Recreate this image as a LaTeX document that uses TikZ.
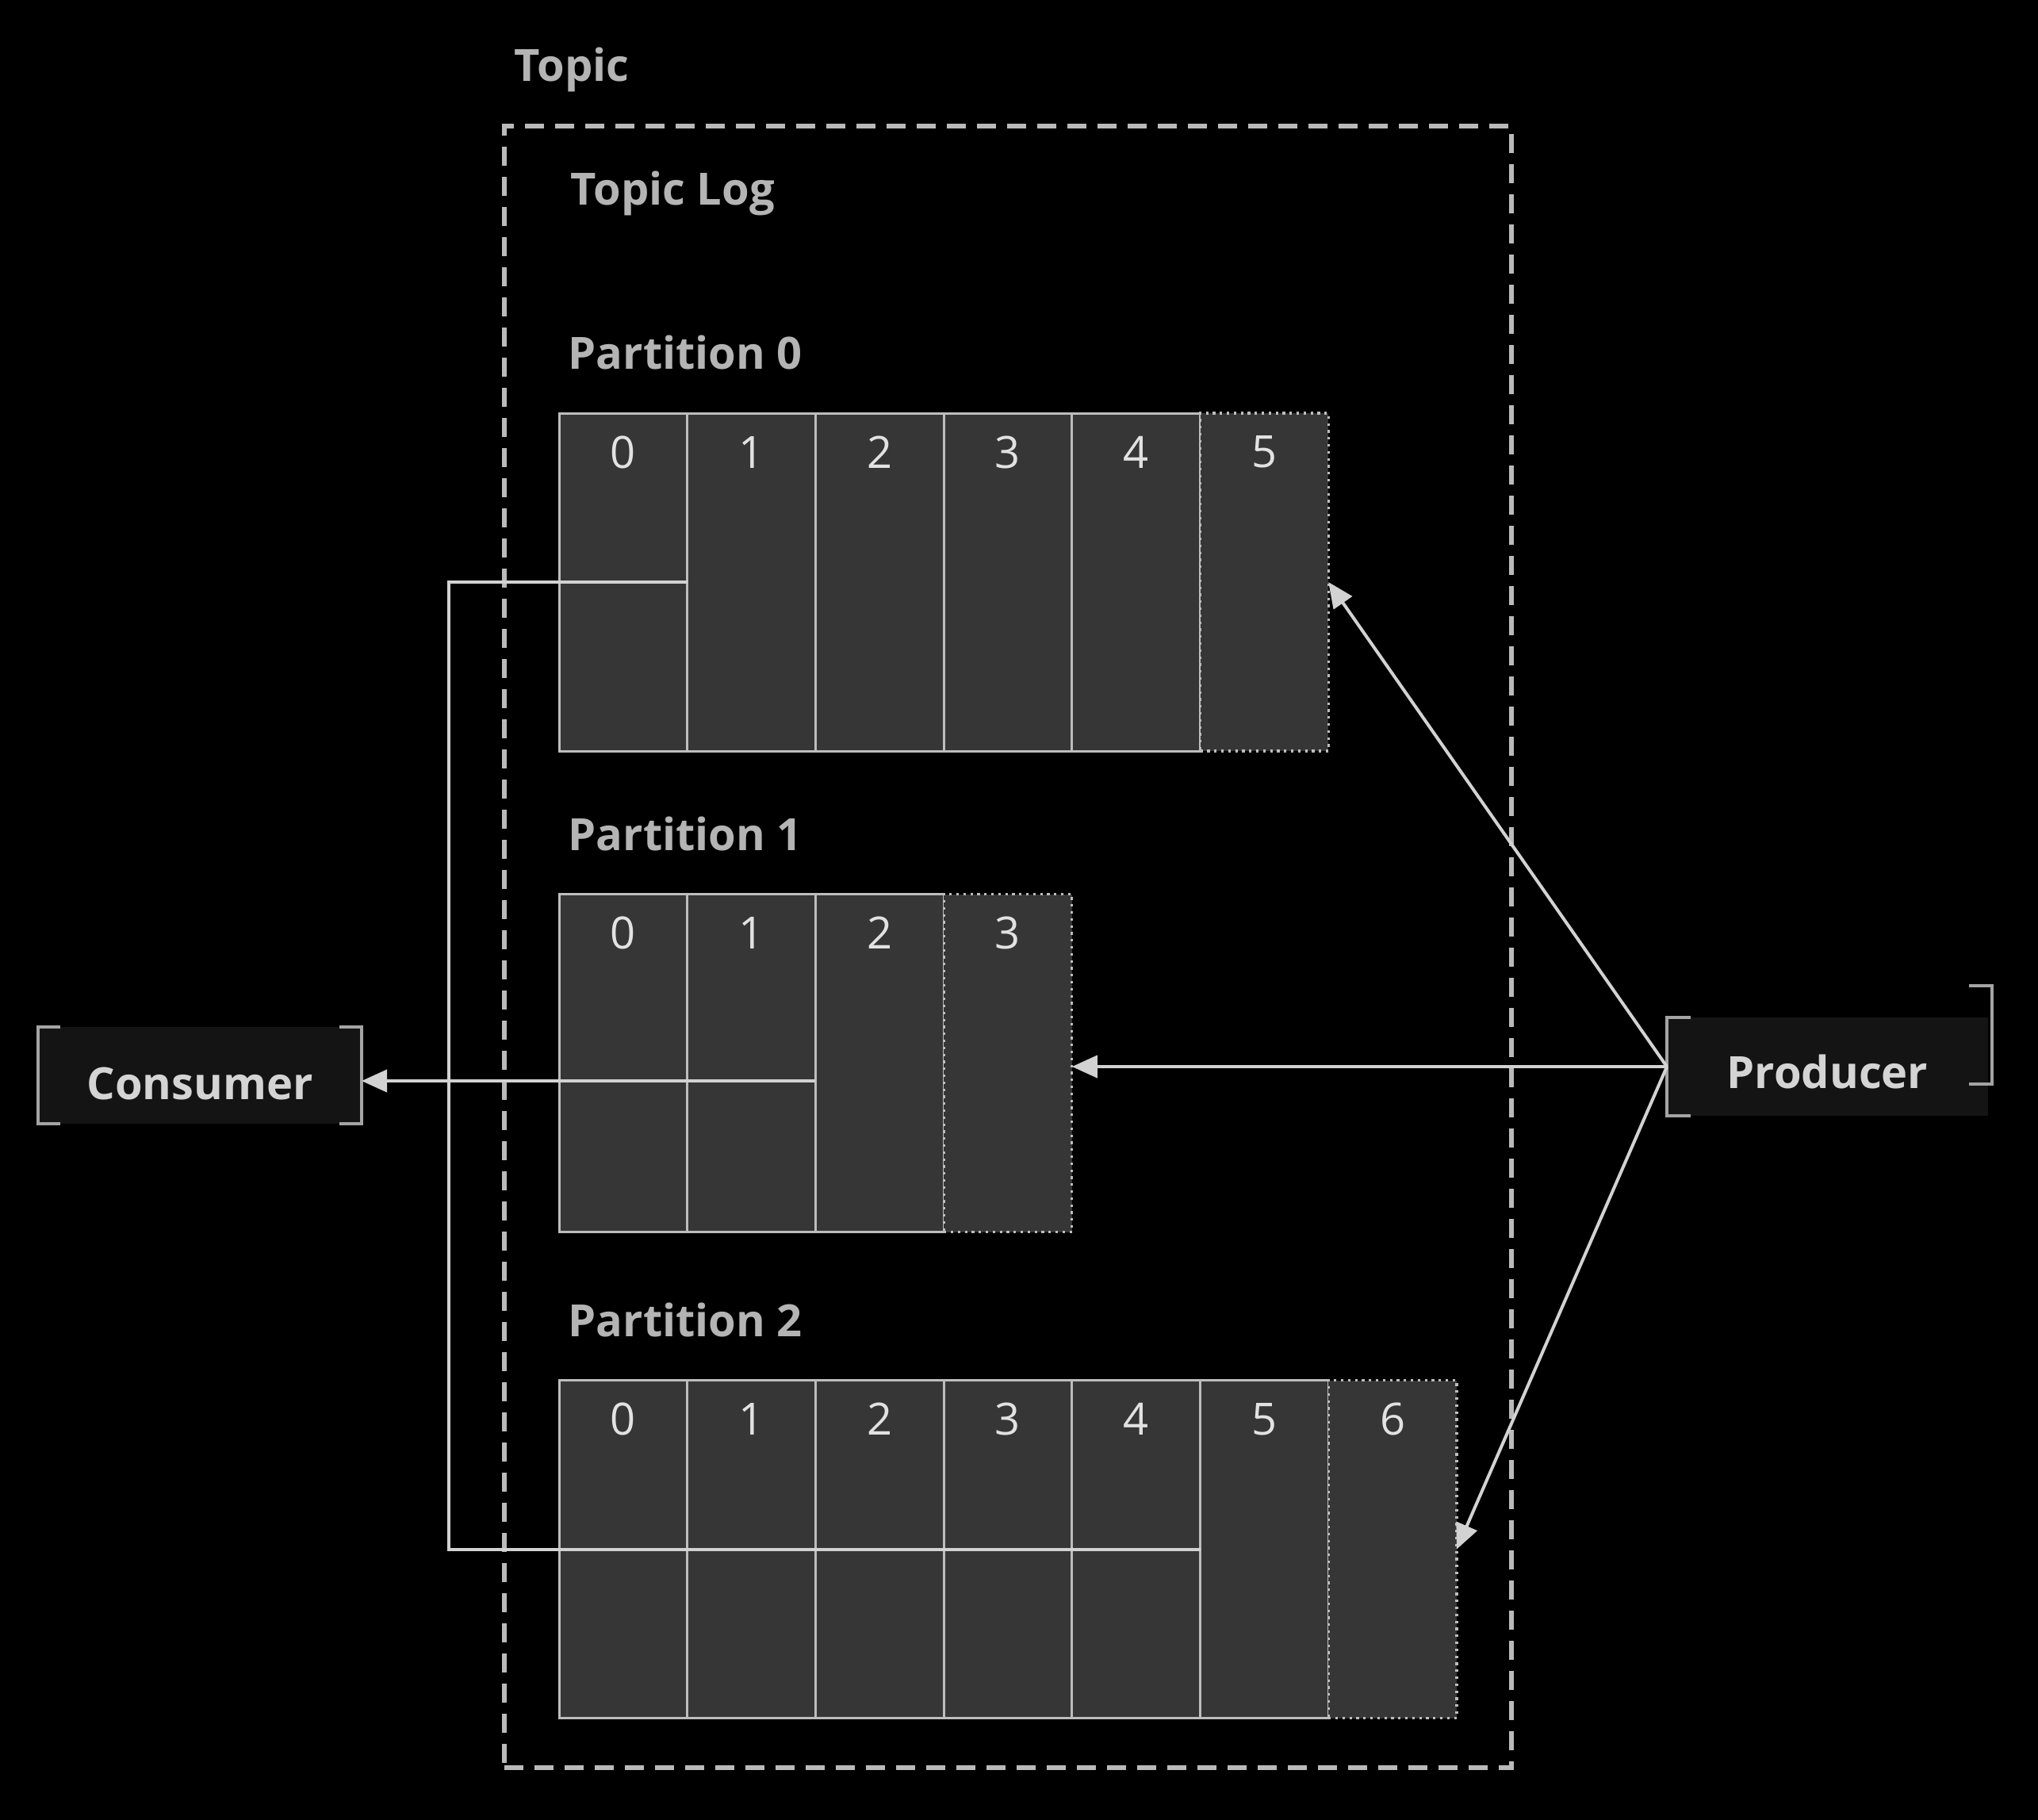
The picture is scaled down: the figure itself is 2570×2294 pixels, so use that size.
\documentclass[tikz,border=0pt]{standalone}
\usepackage{fontspec}
\setmainfont{Open Sans}
\usetikzlibrary{arrows.meta}
\definecolor{cellfill}{HTML}{363636}
\definecolor{cellline}{HTML}{BDBDBD}
\definecolor{digitcol}{HTML}{E2E2E2}
\definecolor{lblcol}{HTML}{B4B4B4}
\definecolor{conncol}{HTML}{D2D2D2}
\definecolor{boxfill}{HTML}{141414}
\definecolor{boxtext}{HTML}{D4D4D4}
\definecolor{bracketcol}{HTML}{A4A4A4}
\definecolor{dashcol}{HTML}{BABABA}
\tikzset{
  cell/.style={draw=cellline, fill=cellfill, line width=0.75pt, minimum width=40.425pt, minimum height=106.5pt, inner sep=0pt, outer sep=0pt, anchor=north west},
  newcell/.style={cell, line width=0.8pt, dash pattern=on 0.8pt off 1.4pt},
  digit/.style={text=digitcol, font=\fontsize{14}{16}\selectfont, inner sep=0pt},
  lbl/.style={text=lblcol, font=\bfseries\fontsize{14}{16}\selectfont, anchor=base west, inner sep=0pt},
  conn/.style={draw=conncol, line width=1pt},
  arr/.style={conn, -{Triangle[length=8pt,width=7pt]}},
  box/.style={fill=boxfill, text=boxtext, font=\bfseries\fontsize{14}{16}\selectfont, inner sep=0pt, outer sep=0pt},
  bracket/.style={draw=bracketcol, line width=1pt},
  topicbox/.style={draw=dashcol, line width=1.3pt, dash pattern=on 6pt off 3.5pt, inner sep=0pt, outer sep=0pt, anchor=north west}
}
\begin{document}
\begin{tikzpicture}[x=0.25pt,y=-0.25pt]
\useasboundingbox (0,0) rectangle (2570,2294);
\fill[black] (-20,-20) rectangle (2590,2314);

% topic container
\node[topicbox, minimum width=317.5pt, minimum height=517.5pt] (topic) at (636,159) {};
\node[lbl] (topiclbl) at (648,102) {Topic};
\node[lbl] (loglbl) at (719,258) {Topic Log};
\node[lbl] (p0lbl) at (716,465) {Partition 0};
\node[lbl] (p1lbl) at (716,1072) {Partition 1};
\node[lbl] (p2lbl) at (716,1685) {Partition 2};

% partition 0
\foreach \i in {0,...,4} \node[cell] (p0c\i) at ({705+161.7*\i},521) {};
\node[newcell] (p0c5) at ({705+161.7*5},521) {};
\foreach \i in {0,...,5} \node[digit] (p0n\i) at ([yshift=-12.25pt]p0c\i.north) {\i};

% partition 1
\foreach \i in {0,...,2} \node[cell] (p1c\i) at ({705+161.7*\i},1127.6) {};
\node[newcell] (p1c3) at ({705+161.7*3},1127.6) {};
\foreach \i in {0,...,3} \node[digit] (p1n\i) at ([yshift=-12.25pt]p1c\i.north) {\i};

% partition 2
\foreach \i in {0,...,5} \node[cell] (p2c\i) at ({705+161.7*\i},1740.6) {};
\node[newcell] (p2c6) at ({705+161.7*6},1740.6) {};
\foreach \i in {0,...,6} \node[digit] (p2n\i) at ([yshift=-12.25pt]p2c\i.north) {\i};

% consumer and producer
\node[box, minimum width=102pt, minimum height=30.5pt, text height=15pt, text depth=0pt] (consumer) at (252,1356) {Consumer};
\node[box, minimum width=101.25pt, minimum height=31pt, text height=13.5pt, text depth=0pt] (producer) at (2304.5,1345) {Producer};

\draw[bracket] ([xshift=7pt]consumer.north west) -- (consumer.north west) -- (consumer.south west) -- ([xshift=7pt]consumer.south west);
\draw[bracket] ([xshift=-7pt]consumer.north east) -- (consumer.north east) -- (consumer.south east) -- ([xshift=-7pt]consumer.south east);
\draw[bracket] ([xshift=7.5pt]producer.north west) -- (producer.north west) -- (producer.south west) -- ([xshift=7.5pt]producer.south west);
\draw[bracket] ([xshift=-6pt,yshift=10pt]producer.north east) -- ([xshift=1.25pt,yshift=10pt]producer.north east) -- ([xshift=1.25pt,yshift=10pt]producer.south east) -- ([xshift=-6pt,yshift=10pt]producer.south east);

% consumer offsets
\coordinate (j0) at (565.5,734);
\coordinate (j2) at (565.5,1953.6);
\coordinate (c1) at (1027.7,1363);
\draw[conn] (p0c0.east) -- (j0) -- (j2) -- (p2c4.east);
\draw[arr] (c1) -- (consumer.east |- c1);

% producer writes
\draw[arr] (producer.west) -- (p0c5.east);
\draw[arr] (producer.west) -- (p1c3.east |- producer.west);
\draw[arr] (producer.west) -- (p2c6.east);
\end{tikzpicture}
\end{document}
